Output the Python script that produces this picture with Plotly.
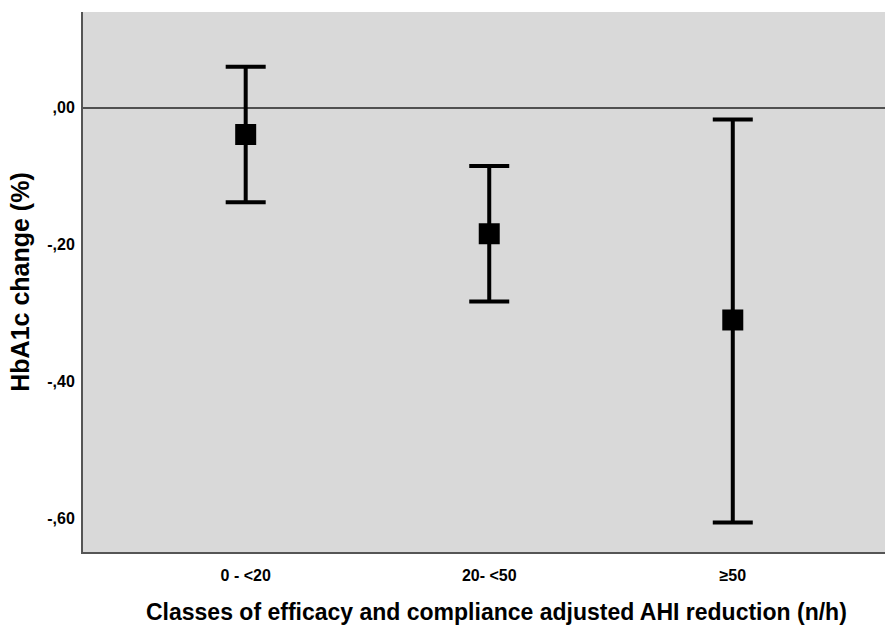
import plotly.graph_objects as go

categories = ["0 - <20", "20- <50", "≥50"]
means = [-0.039, -0.184, -0.310]
upper = [0.060, -0.085, -0.017]
lower = [-0.138, -0.283, -0.606]

ytick_vals = [0.0, -0.2, -0.4, -0.6]
ytick_text = [",00", "-,20", "-,40", "-,60"]

x_title = "Classes of efficacy and compliance adjusted AHI reduction (n/h)"
y_title = "HbA1c change (%)"

xpos = list(range(len(categories)))
err_plus = [u - m for u, m in zip(upper, means)]
err_minus = [m - l for m, l in zip(means, lower)]

FONT = "Liberation Sans, Arial, sans-serif"

fig = go.Figure()
fig.add_trace(go.Scatter(
    x=xpos, y=means, mode="markers",
    marker=dict(symbol="square", size=21, color="black"),
    error_y=dict(type="data", symmetric=False, array=err_plus, arrayminus=err_minus,
                 color="black", thickness=4, width=20),
    showlegend=False, hoverinfo="skip",
))

fig.add_annotation(
    text=f"<b>{x_title}</b>", xref="paper", yref="paper", x=0.515, y=0,
    xanchor="center", yanchor="middle", yshift=-60, showarrow=False,
    font=dict(size=23, family=FONT, color="black"),
)

fig.update_layout(
    width=885, height=633,
    margin=dict(l=83, r=0, t=12, b=81),
    paper_bgcolor="white", plot_bgcolor="#d9d9d9",
    font=dict(family=FONT, color="black"),
    xaxis=dict(
        range=[-0.668, 2.625], tickvals=xpos, ticktext=[f"<b>{c}</b>" for c in categories],
        tickfont=dict(size=16), showgrid=False, zeroline=False,
        showline=True, linecolor="#555555", linewidth=2, ticks="", ticklen=0,
        ticklabelstandoff=8,
    ),
    yaxis=dict(
        range=[-0.649, 0.140], tickvals=ytick_vals, ticktext=[f"<b>{t}</b>" for t in ytick_text],
        tickfont=dict(size=16), showgrid=False,
        zeroline=True, zerolinecolor="#505050", zerolinewidth=2,
        showline=True, linecolor="#555555", linewidth=2, ticks="", ticklen=0,
        ticklabelstandoff=3,
        title=dict(text=f"<b>{y_title}</b>", font=dict(size=25), standoff=10),
    ),
)

fig.write_html("out.html")
